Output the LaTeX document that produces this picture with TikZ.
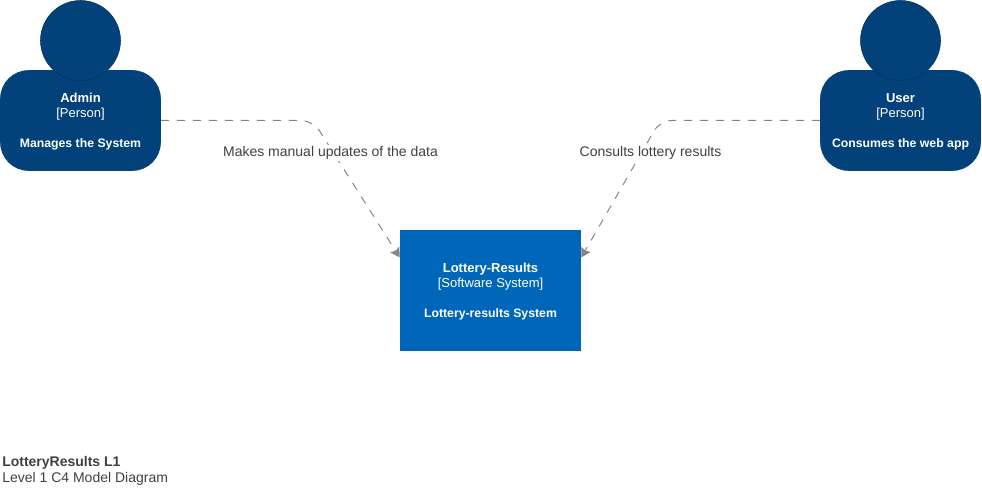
\documentclass[tikz,border=0pt]{standalone}
\usepackage{fontspec}
\setmainfont{Liberation Sans}
\usetikzlibrary{arrows.meta,positioning,calc}
\definecolor{persondark}{HTML}{02417A}
\definecolor{personline}{HTML}{06315C}
\definecolor{systemblue}{HTML}{0066BA}
\definecolor{flowgray}{HTML}{858585}
\definecolor{labelgray}{HTML}{404040}
\newcommand{\boxname}[1]{{\fontsize{9.75}{11.25}\selectfont\rule{0pt}{9.4pt}\textbf{#1}}}
\newcommand{\boxtype}[1]{{\fontsize{9.75}{11.25}\selectfont[#1]}}
\newcommand{\boxtext}[1]{{\fontsize{9.2}{11.25}\selectfont\textbf{#1}}}
\tikzset{
  personbody/.style ={draw=persondark,fill=persondark,rounded corners=21pt,align=center,text=white,
                       font=\fontsize{9}{11.25}\selectfont,inner sep=0pt,
                       minimum width=120pt,minimum height=75pt},
  personhead/.style ={draw=personline,fill=persondark,circle,inner sep=0pt,minimum size=60pt},
  systembox/.style  ={fill=systemblue,align=center,text=white,font=\fontsize{9}{11.25}\selectfont,
                       inner sep=0pt,minimum width=135.75pt,minimum height=90.75pt},
  flow/.style       ={-{Stealth[length=7pt,width=8pt,inset=1pt]},draw=flowgray,line width=0.75pt,
                       dash pattern=on 6pt off 6pt,rounded corners=9pt},
  flowlabel/.style  ={fill=white,text=labelgray,font=\fontsize{10.5}{12}\selectfont,inner sep=1pt},
  titletext/.style  ={anchor=north west,align=left,text=labelgray,font=\fontsize{10.5}{12}\selectfont,inner sep=0pt},
}
\begin{document}
\begin{tikzpicture}[x=0.75pt,y=-0.75pt]
\useasboundingbox (0,0) rectangle (982,492);
% Persons
\node[personbody] (admin) at (80.5,120.5) {\boxname{Admin}\\\boxtype{Person}\\ \\\boxtext{Manages the System}};
\node[personhead] (adminhead) at (80.5,40.5) {};
\node[personbody] (user) at (900.5,120.5) {\boxname{User}\\\boxtype{Person}\\ \\\boxtext{Consumes the web app}};
\node[personhead] (userhead) at (900.5,40.5) {};
% System
\node[systembox] (system) at (490.5,290.5) {\boxname{Lottery-Results}\\\boxtype{Software System}\\ \\\boxtext{Lottery-results System}};
% Bends
\coordinate (adminbend) at (313,120.5);
\coordinate (userbend) at (660,120.5);
% Relations
\draw[flow] (admin.east) -- (adminbend) -- (system.160);
\draw[flow] (user.west) -- (userbend) -- (system.20);
\node[flowlabel] (adminlabel) at (330.5,153) {Makes manual updates of the data};
\node[flowlabel] (userlabel) at (650.5,153) {Consults lottery results};
% Title
\node[titletext] (title) at (2,456) {\textbf{LotteryResults L1}\\Level 1 C4 Model Diagram};
\end{tikzpicture}
\end{document}
